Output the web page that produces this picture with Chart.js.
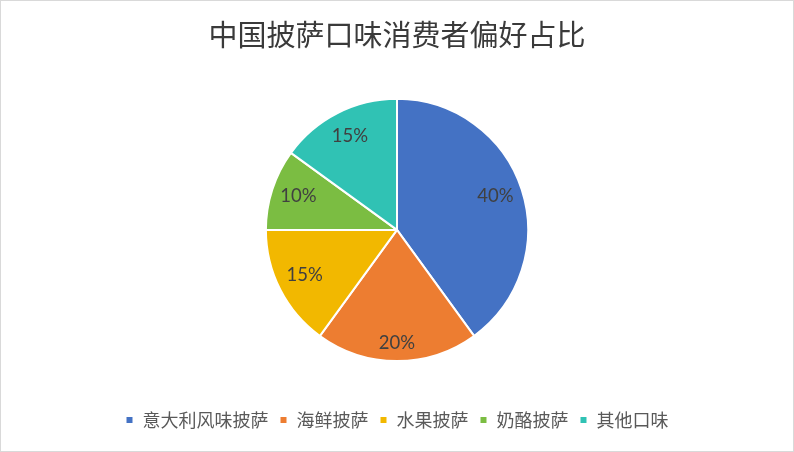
<!DOCTYPE html>
<html>
<head>
<meta charset="utf-8">
<script src="https://cdn.jsdelivr.net/npm/chart.js@4"></script>
<style>
  html, body { margin: 0; padding: 0; background: #fff; }
  #wrap { width: 794px; height: 452px; box-sizing: border-box; border: 1px solid #d9d9d9; }
  #wrap canvas { display: block; }
</style>
</head>
<body>
<div id="wrap"><canvas id="ChartPizza" width="792" height="450"></canvas></div>
<script>
const categorias = ["意大利风味披萨", "海鲜披萨", "水果披萨", "奶酪披萨", "其他口味"]
const porcentajes = [40, 20, 15, 10, 15]
const colores = ["#4472C4", "#ED7D31", "#F2B800", "#7BBD42", "#30C2B4"]
const titulo = "中国披萨口味消费者偏好占比"

const ChartPizza = document.getElementById("ChartPizza")

// Dibuja el porcentaje dentro de cada sector
const etiquetasPlugin = {
    id: "etiquetas",
    afterDatasetsDraw(chart) {
        const ctx = chart.ctx
        const meta = chart.getDatasetMeta(0)
        ctx.save()
        ctx.font = "18.5px Lato, 'Noto Sans', sans-serif"
        ctx.fillStyle = "#404040"
        ctx.textAlign = "center"
        ctx.textBaseline = "middle"
        meta.data.forEach((arc, i) => {
            const p = arc.getProps(["x", "y", "startAngle", "endAngle", "outerRadius"], true)
            const medio = (p.startAngle + p.endAngle) / 2
            const r = p.outerRadius * (i === 1 ? 0.88 : 0.79)
            ctx.fillText(porcentajes[i] + "%", p.x + Math.cos(medio) * r, p.y + Math.sin(medio) * r - 2)
        })
        ctx.restore()
    }
}

new Chart(ChartPizza, {
    type: "pie",
    data: {
        labels: categorias,
        datasets: [{
            data: porcentajes,
            backgroundColor: colores,
            borderColor: "#ffffff",
            borderWidth: 2
        }]
    },
    options: {
        responsive: false,
        animation: false,
        layout: { padding: { top: 0, bottom: 12 } },
        plugins: {
            title: {
                display: true,
                text: titulo,
                color: "#3a3a3a",
                font: { size: 29, weight: "normal", family: "'Noto Sans CJK SC', sans-serif" },
                padding: { top: 17, bottom: 45 }
            },
            legend: {
                position: "bottom",
                // titulo vacio: solo reserva espacio entre el grafico y la leyenda
                title: { display: true, text: "", font: { size: 10, lineHeight: 1 }, padding: 14 },
                labels: {
                    boxWidth: 8,
                    boxHeight: 8,
                    padding: 11,
                    color: "#595959",
                    font: { size: 18, family: "'Noto Sans CJK SC', sans-serif" }
                }
            },
            tooltip: { enabled: false }
        }
    },
    plugins: [etiquetasPlugin]
})
</script>
</body>
</html>
